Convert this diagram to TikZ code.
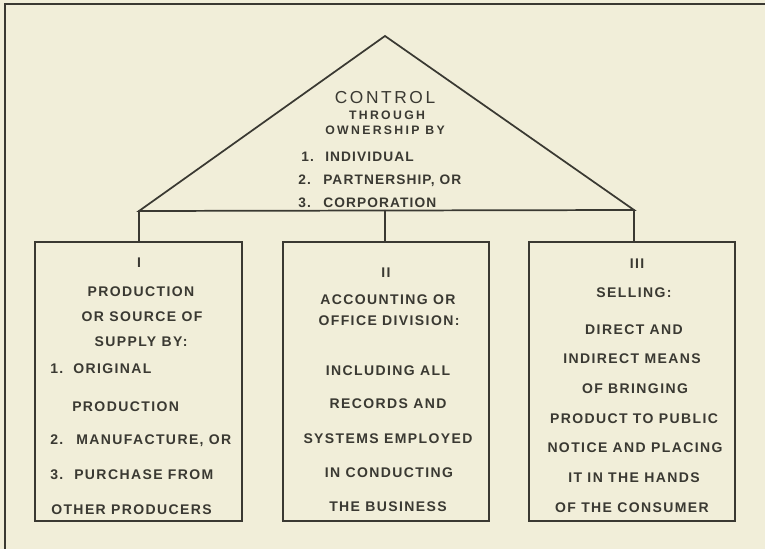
\documentclass[tikz,border=0pt]{standalone}
\usepackage{fontspec}
\setmainfont{Liberation Sans}
\newfontfamily\ctlfont[LetterSpace=15]{Liberation Sans}
\newfontfamily\thrfont[LetterSpace=19]{Liberation Sans}
\newfontfamily\trifont[LetterSpace=8]{Liberation Sans}
\newfontfamily\bxfont[LetterSpace=10]{Liberation Sans}
\definecolor{paper}{HTML}{F1EED9}
\definecolor{ink}{HTML}{3A3932}
\tikzset{
  lbl/.style={inner sep=0pt, text=ink, text depth=0pt},
  ctl/.style={lbl, font=\ctlfont\fontsize{13}{13}\selectfont, text height=8.94pt},
  thr/.style={lbl, font=\thrfont\bfseries\fontsize{9.2}{9.2}\selectfont, text height=6.33pt},
  tri/.style={lbl, font=\trifont\bfseries\fontsize{10.3}{10.3}\selectfont, text height=7.09pt, anchor=west},
  bx/.style={lbl, font=\bxfont\bfseries\fontsize{10.5}{10.5}\selectfont, text height=7.22pt},
  bxl/.style={bx, anchor=west},
  frame/.style={draw=ink, line width=1.4pt},
  box/.style={draw=ink, line width=1.3pt, inner sep=0pt, minimum height=209.25pt},
  wire/.style={draw=ink, line width=1.3pt, line cap=round, line join=miter},
}
\begin{document}
\begin{tikzpicture}[x=0.75pt, y=-0.75pt]
\fill[paper] (0,0) rectangle (765,549);
\useasboundingbox (0,0) rectangle (765,549);
% outer frame
\coordinate (fbl) at (5,549);
\coordinate (ftl) at (5,4);
\coordinate (ftr) at (765,4);
\draw[frame] (fbl) -- (ftl) -- (ftr);
% triangle
\coordinate (apex) at (385,36);
\coordinate (tl) at (139,211);
\coordinate (tr) at (634,210);
\coordinate (mid) at (385,210.5);
\draw[wire] (tl) -- (apex) -- (tr) -- cycle;
% boxes
\node[box, minimum width=155.25pt] (b1) at (138.5,381.5) {};
\node[box, minimum width=154.5pt] (b2) at (386,381.5) {};
\node[box, minimum width=154.5pt] (b3) at (632,381.5) {};
% connectors
\draw[wire] (tl) -- (tl |- b1.north);
\draw[wire] (mid) -- (mid |- b2.north);
\draw[wire] (tr) -- (tr |- b3.north);
% triangle text
\node[ctl] (c1) at (385,98) {CONTROL};
\node[thr] (c2) at (387,115) {THROUGH};
\node[thr] (c3) at (385,130) {OWNERSHIP BY};
\node[tri] (n1) at (301,157) {1.};
\node[tri] (t1) at (325,157) {INDIVIDUAL};
\node[tri] (n2) at (298,180) {2.};
\node[tri] (t2) at (323,180) {PARTNERSHIP, OR};
\node[tri] (n3) at (298,203) {3.};
\node[tri] (t3) at (323,203) {CORPORATION};
% box I
\node[bx] (a0) at (139,263) {I};
\node[bx] (a1) at (141,292) {PRODUCTION};
\node[bx] (a2) at (142,317) {OR SOURCE OF};
\node[bx] (a3) at (141,342) {SUPPLY BY:};
\node[bxl] (a4n) at (50,369) {1.};
\node[bxl] (a4) at (73,369) {ORIGINAL};
\node[bxl] (a5) at (72,407) {PRODUCTION};
\node[bxl] (a6n) at (50,440) {2.};
\node[bxl] (a6) at (76,440) {MANUFACTURE, OR};
\node[bxl] (a7n) at (50,475) {3.};
\node[bxl] (a7) at (74,475) {PURCHASE FROM};
\node[bxl] (a8) at (51,510) {OTHER PRODUCERS};
% box II
\node[bx] (m0) at (386,273) {II};
\node[bx] (m1) at (388,300) {ACCOUNTING OR};
\node[bx] (m2) at (389,321) {OFFICE DIVISION:};
\node[bx] (m3) at (388,371) {INCLUDING ALL};
\node[bx] (m4) at (388,404) {RECORDS AND};
\node[bx] (m5) at (388,439) {SYSTEMS EMPLOYED};
\node[bx] (m6) at (389,473) {IN CONDUCTING};
\node[bx] (m7) at (388,507) {THE BUSINESS};
% box III
\node[bx] (r0) at (637,264) {III};
\node[bx] (r1) at (634,293) {SELLING:};
\node[bx] (r2) at (634,330) {DIRECT AND};
\node[bx] (r3) at (632,359) {INDIRECT MEANS};
\node[bx] (r4) at (635,389) {OF BRINGING};
\node[bx] (r5) at (634,419) {PRODUCT TO PUBLIC};
\node[bx] (r6) at (635,448) {NOTICE AND PLACING};
\node[bx] (r7) at (634,478) {IT IN THE HANDS};
\node[bx] (r8) at (632,508) {OF THE CONSUMER};
\end{tikzpicture}
\end{document}
